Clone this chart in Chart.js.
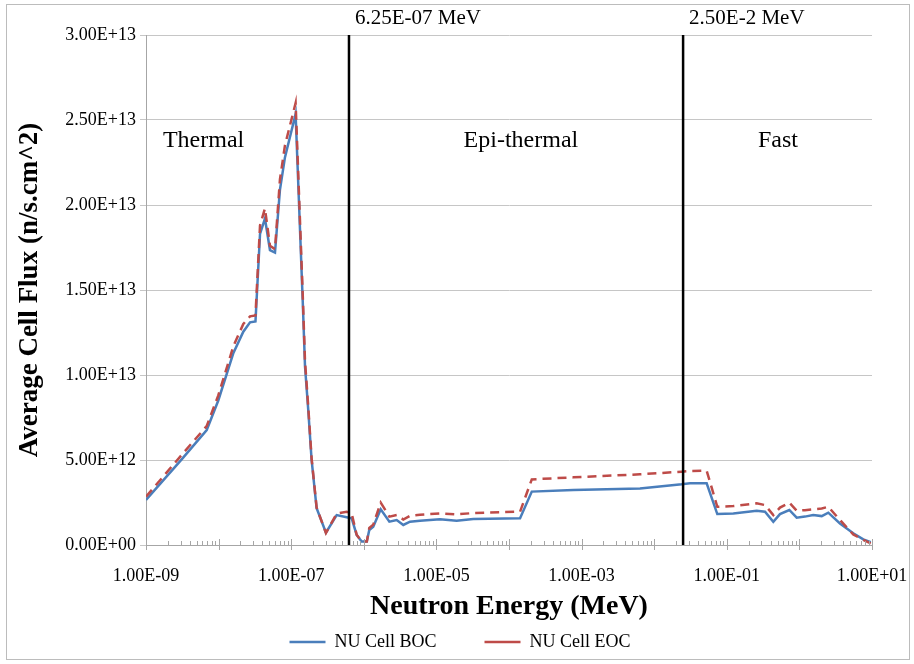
<!DOCTYPE html>
<html>
<head>
<meta charset="utf-8">
<title>Average Cell Flux</title>
<script src="https://cdn.jsdelivr.net/npm/chart.js@4/dist/chart.umd.min.js"></script>
<style>
  html, body { margin: 0; padding: 0; background: #fff; }
  #wrap { width: 914px; height: 664px; }
</style>
</head>
<body>
<div id="wrap"><canvas id="flux-chart" width="914" height="664"></canvas></div>
<script>
// Neutron energy group points (MeV)
const energies = [
  1.00e-9, 3.10e-9, 6.86e-9, 9.90e-9, 1.60e-8, 2.19e-8, 2.71e-8, 3.22e-8, 3.72e-8, 4.35e-8,
  5.10e-8, 5.98e-8, 7.00e-8, 8.20e-8, 1.15e-7, 1.44e-7, 1.55e-7, 1.72e-7, 1.91e-7, 2.24e-7,
  3.01e-7, 4.23e-7, 5.81e-7, 6.81e-7, 7.97e-7, 9.35e-7, 1.10e-6, 1.19e-6, 1.35e-6, 1.71e-6,
  2.25e-6, 2.84e-6, 3.50e-6, 4.33e-6, 5.94e-6, 1.12e-5, 1.90e-5, 3.22e-5, 1.42e-4, 2.06e-4,
  7.69e-4, 6.37e-3, 2.39e-2, 3.11e-2, 5.28e-2, 7.40e-2, 0.123, 0.258, 0.336, 0.437,
  0.540, 0.726, 0.918, 1.19, 1.55, 2.03, 2.50, 3.62, 5.52, 7.58, 9.60
];

// Flux values in units of 1E+12 n/s.cm^2
const fluxBOC = [
  2.65, 5.04, 6.76, 8.50, 11.3, 12.55, 13.1, 13.15, 18.3, 19.2,
  17.35, 17.2, 20.9, 22.8, 25.35, 14.4, 10.5, 7.9, 5.0, 2.16,
  0.73, 1.76, 1.63, 1.57, 0.59, 0.20, 0.20, 0.88, 1.08, 2.10,
  1.37, 1.47, 1.18, 1.37, 1.43, 1.51, 1.43, 1.53, 1.57, 3.14,
  3.24, 3.33, 3.57, 3.63, 3.63, 1.82, 1.86, 2.02, 1.96, 1.37,
  1.82, 2.06, 1.61, 1.67, 1.76, 1.70, 1.90, 1.27, 0.69, 0.33, 0.16
];
const fluxEOC = [
  2.84, 5.30, 7.00, 8.80, 11.7, 13.0, 13.45, 13.5, 18.8, 19.8,
  17.6, 17.4, 21.5, 23.5, 26.0, 14.8, 10.8, 8.1, 5.1, 2.20,
  0.70, 1.85, 1.96, 1.86, 0.60, 0.20, 0.20, 1.00, 1.20, 2.49,
  1.67, 1.76, 1.50, 1.72, 1.78, 1.86, 1.80, 1.88, 1.96, 3.86,
  3.98, 4.16, 4.31, 4.35, 4.37, 2.25, 2.29, 2.45, 2.35, 1.76,
  2.20, 2.49, 2.02, 2.05, 2.10, 2.15, 2.25, 1.47, 0.62, 0.30, 0.10
];
const FLUX_UNIT = 1e12;

// Y axis tick values
const yTicks = [0, 5e12, 1e13, 1.5e13, 2e13, 2.5e13, 3e13];
// Decades on the energy axis, labels on every other one
const xDecades = [-9, -8, -7, -6, -5, -4, -3, -2, -1, 0, 1];
const xLabelDecades = [-9, -7, -5, -3, -1, 1];

// Energy region boundaries and names
const cutoffEnergies = [6.25e-7, 2.5e-2];
const cutoffLabels = ["6.25E-07 MeV", "2.50E-2 MeV"];
const regionNames = ["Thermal", "Epi-thermal", "Fast"];

const SERIF = "'Liberation Serif', 'Times New Roman', serif";

// Excel-like scientific format: 1.00E-09
function sci(v) {
  if (v === 0) return "0.00E+00";
  const parts = v.toExponential(2).toUpperCase().split("E");
  let exp = parseInt(parts[1], 10);
  const sign = exp < 0 ? "-" : "+";
  exp = Math.abs(exp);
  return parts[0] + "E" + sign + (exp < 10 ? "0" + exp : exp);
}

const toPoints = (vals) => energies.map((e, i) => ({ x: e, y: vals[i] * FLUX_UNIT }));

// Figure frame, vertical cut-off lines, region names and log tick marks
const decorations = {
  id: "decorations",
  beforeDraw(chart) {
    const ctx = chart.ctx;
    ctx.save();
    ctx.fillStyle = "#fff";
    ctx.fillRect(0, 0, chart.width, chart.height);
    ctx.strokeStyle = "#bcbcbc";
    ctx.lineWidth = 1;
    ctx.strokeRect(6.5, 4.5, 903, 655);
    ctx.restore();
  },
  afterDatasetsDraw(chart) {
    const ctx = chart.ctx;
    const xs = chart.scales.x;
    const ys = chart.scales.y;
    const area = chart.chartArea;
    ctx.save();

    // minor and major tick marks on the energy axis
    ctx.strokeStyle = "#a6a6a6";
    ctx.lineWidth = 1;
    xDecades.forEach((d) => {
      const px = Math.round(xs.getPixelForValue(Math.pow(10, d))) + 0.5;
      ctx.beginPath();
      ctx.moveTo(px, area.bottom - 6);
      ctx.lineTo(px, area.bottom + 5);
      ctx.stroke();
      if (d < 1) {
        for (let m = 2; m <= 9; m++) {
          const mx = Math.round(xs.getPixelForValue(m * Math.pow(10, d))) + 0.5;
          ctx.beginPath();
          ctx.moveTo(mx, area.bottom - 4);
          ctx.lineTo(mx, area.bottom);
          ctx.stroke();
        }
      }
    });

    // cut-off lines
    ctx.strokeStyle = "#000";
    ctx.lineWidth = 2.5;
    ctx.fillStyle = "#000";
    ctx.font = "21px " + SERIF;
    ctx.textBaseline = "middle";
    ctx.textAlign = "left";
    cutoffEnergies.forEach((e, i) => {
      const px = xs.getPixelForValue(e);
      ctx.beginPath();
      ctx.moveTo(px, area.top);
      ctx.lineTo(px, area.bottom);
      ctx.stroke();
      ctx.fillText(cutoffLabels[i], px + 6, area.top - 17);
    });

    // region names
    const regionX = [1.71e-9, 1.46e-4, 0.507];
    const regionAlign = ["left", "center", "center"];
    const labelY = ys.getPixelForValue(2.38e13);
    ctx.font = "24px " + SERIF;
    regionNames.forEach((name, i) => {
      ctx.textAlign = regionAlign[i];
      ctx.fillText(name, xs.getPixelForValue(regionX[i]), labelY);
    });
    ctx.restore();
  },
};

const ctx = document.getElementById("flux-chart").getContext("2d");
const fluxChart = new Chart(ctx, {
  type: "line",
  data: {
    datasets: [
      {
        label: "NU Cell BOC",
        data: toPoints(fluxBOC),
        borderColor: "#4a7ebb",
        backgroundColor: "#4a7ebb",
        borderWidth: 2.5,
        pointRadius: 0,
        tension: 0,
        order: 1,
      },
      {
        label: "NU Cell EOC",
        data: toPoints(fluxEOC),
        borderColor: "#be4b48",
        backgroundColor: "#be4b48",
        borderWidth: 2.5,
        borderDash: [9, 6],
        pointRadius: 0,
        tension: 0,
        order: 0,
      },
    ],
  },
  options: {
    responsive: false,
    animation: false,
    devicePixelRatio: 1,
    layout: {
      padding: { left: 6, right: 0, top: 35, bottom: 3 },
    },
    plugins: {
      legend: {
        position: "bottom",
        labels: {
          usePointStyle: true,
          pointStyle: "line",
          pointStyleWidth: 36,
          boxHeight: 10,
          padding: 48,
          color: "#000",
          font: { family: SERIF, size: 18 },
          sort: (a, b) => a.datasetIndex - b.datasetIndex,
        },
      },
      tooltip: { enabled: false },
    },
    scales: {
      x: {
        type: "logarithmic",
        min: 1e-9,
        max: 10,
        afterBuildTicks: (scale) => {
          scale.ticks = xDecades.map((d) => ({ value: Math.pow(10, d) }));
        },
        afterFit: (scale) => {
          const legendH = scale.chart.legend ? scale.chart.legend.height : 80;
          scale.height = 664 - 3 - legendH - 545;
          scale.paddingLeft = 0;
          scale.paddingRight = 42;
        },
        grid: { display: false, drawTicks: false },
        border: { display: true, color: "#a6a6a6", width: 1 },
        ticks: {
          autoSkip: false,
          maxRotation: 0,
          padding: 20,
          color: "#000",
          font: { family: SERIF, size: 18 },
          callback: function (value) {
            const d = Math.round(Math.log10(value));
            return xLabelDecades.includes(d) ? sci(value) : "";
          },
        },
        title: {
          display: true,
          text: "Neutron Energy (MeV)",
          color: "#000",
          font: { family: SERIF, size: 28, weight: "bold", lineHeight: 1 },
          padding: { top: 0, bottom: -36 },
        },
      },
      y: {
        min: 0,
        max: 3e13,
        afterBuildTicks: (scale) => {
          scale.ticks = yTicks.map((v) => ({ value: v }));
        },
        afterFit: (scale) => {
          scale.width = 140;
        },
        grid: {
          color: "#c6c6c6",
          tickLength: 6,
          lineWidth: 1,
        },
        border: { display: true, color: "#a6a6a6", width: 1 },
        ticks: {
          padding: 4,
          color: "#000",
          font: { family: SERIF, size: 18 },
          callback: (value) => sci(value),
        },
        title: {
          display: true,
          text: "Average Cell Flux (n/s.cm^2)",
          color: "#000",
          font: { family: SERIF, size: 27, weight: "bold", lineHeight: 1 },
          padding: { top: 11, bottom: 0 },
        },
      },
    },
  },
  plugins: [decorations],
});
</script>
</body>
</html>
